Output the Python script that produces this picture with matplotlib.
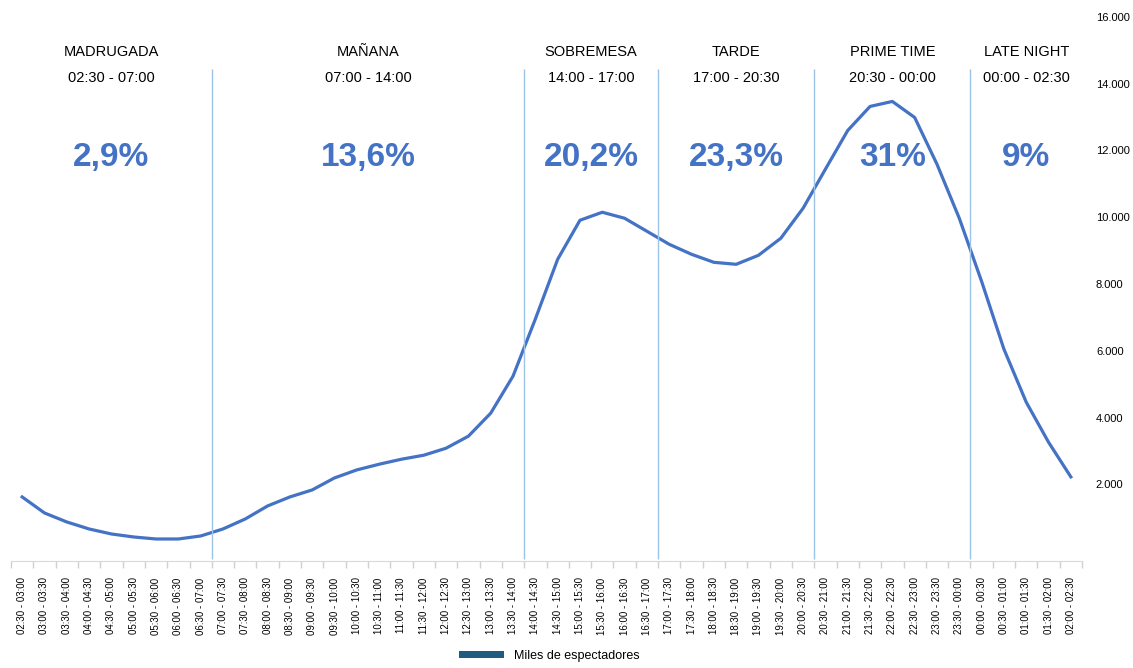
import numpy as np
import matplotlib
matplotlib.use('Agg')
import matplotlib.pyplot as plt
from matplotlib import font_manager
from matplotlib.patches import Patch
from matplotlib.ticker import FuncFormatter

# half-hour slots, 02:30 -> 02:30
slot_starts = ["02:30", "03:00", "03:30", "04:00", "04:30", "05:00", "05:30", "06:00",
	"06:30", "07:00", "07:30", "08:00", "08:30", "09:00", "09:30", "10:00",
	"10:30", "11:00", "11:30", "12:00", "12:30", "13:00", "13:30", "14:00",
	"14:30", "15:00", "15:30", "16:00", "16:30", "17:00", "17:30", "18:00",
	"18:30", "19:00", "19:30", "20:00", "20:30", "21:00", "21:30", "22:00",
	"22:30", "23:00", "23:30", "00:00", "00:30", "01:00", "01:30", "02:00"]
slot_labels = [s + " - " + e for s, e in zip(slot_starts, slot_starts[1:] + ["02:30"])]

# miles de espectadores
viewers = [1620, 1140, 870, 660, 510, 420, 360, 360,
	450, 660, 960, 1350, 1620, 1830, 2190, 2430,
	2600, 2750, 2870, 3080, 3440, 4130, 5240, 6950,
	8740, 9910, 10150, 9970, 9580, 9190, 8890, 8650,
	8590, 8860, 9370, 10270, 11440, 12600, 13320, 13470,
	12990, 11590, 9970, 8080, 6050, 4460, 3260, 2220]

section_names = ["MADRUGADA", "MAÑANA", "SOBREMESA", "TARDE", "PRIME TIME", "LATE NIGHT"]
section_hours = ["02:30 - 07:00", "07:00 - 14:00", "14:00 - 17:00", "17:00 - 20:30", "20:30 - 00:00", "00:00 - 02:30"]
section_share = ["2,9%", "13,6%", "20,2%", "23,3%", "31%", "9%"]

# narrow face if there is one, else Arial-like
try:
	font_manager.findfont('Liberation Sans Narrow', fallback_to_default=False)
	face, k = 'Liberation Sans Narrow', 1.2
except ValueError:
	face, k = 'Liberation Sans', 1.0
plt.rcParams['font.family'] = [face, 'DejaVu Sans']

blue = "#4472C4"
sep_color = "#9DC3E6"

fig = plt.figure(figsize=(11.33, 6.68), dpi=100)
ax = fig.add_axes([11 / 1133, 1 - 551 / 668, (1082 - 11) / 1133, (551 - 17) / 668])
ax.spines['bottom'].set_position(('outward', 7))

n = len(viewers)
xs = np.arange(n)
ax.plot(xs, viewers, color=blue, lw=2.3, solid_joinstyle='round')

ax.set_xlim(-0.5, n - 0.5)
ax.set_ylim(0, 16000)

# section boundaries from the slot where each section starts
starts = [slot_starts.index(h.split(" - ")[0]) for h in section_hours]
bounds = starts[1:]
ax.vlines([b - 0.5 for b in bounds], -240, 14430, color=sep_color, lw=1, clip_on=False)

edges = starts + [n]
tr = ax.get_xaxis_transform()
for i, (name, hours, share) in enumerate(zip(section_names, section_hours, section_share)):
	cx = (edges[i] + edges[i + 1]) / 2 - 0.5
	ax.text(cx, 0.934, name, transform=tr, ha='center', va='center', fontsize=10.5 * k, color='black')
	ax.text(cx, 0.886, hours, transform=tr, ha='center', va='center', fontsize=10.5 * k, color='black')
	ax.text(cx, 0.736, share, transform=tr, ha='center', va='center', fontsize=24 * k,
		fontweight='bold', color=blue)

# x axis
ax.set_xticks(xs)
ax.set_xticklabels(slot_labels, rotation=90, fontsize=7 * k)
ax.set_xticks(np.arange(-0.5, n), minor=True)
ax.tick_params(axis='x', which='major', length=0, pad=12)
ax.tick_params(axis='x', which='minor', length=5, color="#D0D0D0", width=1)
ax.spines['bottom'].set_color("#D9D9D9")

# y axis on the right
ax.yaxis.tick_right()
ax.set_yticks(np.arange(2000, 16001, 2000))
ax.yaxis.set_major_formatter(FuncFormatter(lambda v, p: "{:,.0f}".format(v).replace(",", ".")))
ax.tick_params(axis='y', length=0, pad=10, labelsize=8 * k)
for s in ['top', 'right', 'left']:
	ax.spines[s].set_visible(False)

handle = Patch(facecolor="#1F5C80", edgecolor='none')
fig.legend([handle], ["Miles de espectadores"], loc='center', bbox_to_anchor=(0.485, 0.018),
	frameon=False, fontsize=9 * k, handlelength=3.6, handleheight=0.55)

fig.savefig("out.png", dpi=100)
